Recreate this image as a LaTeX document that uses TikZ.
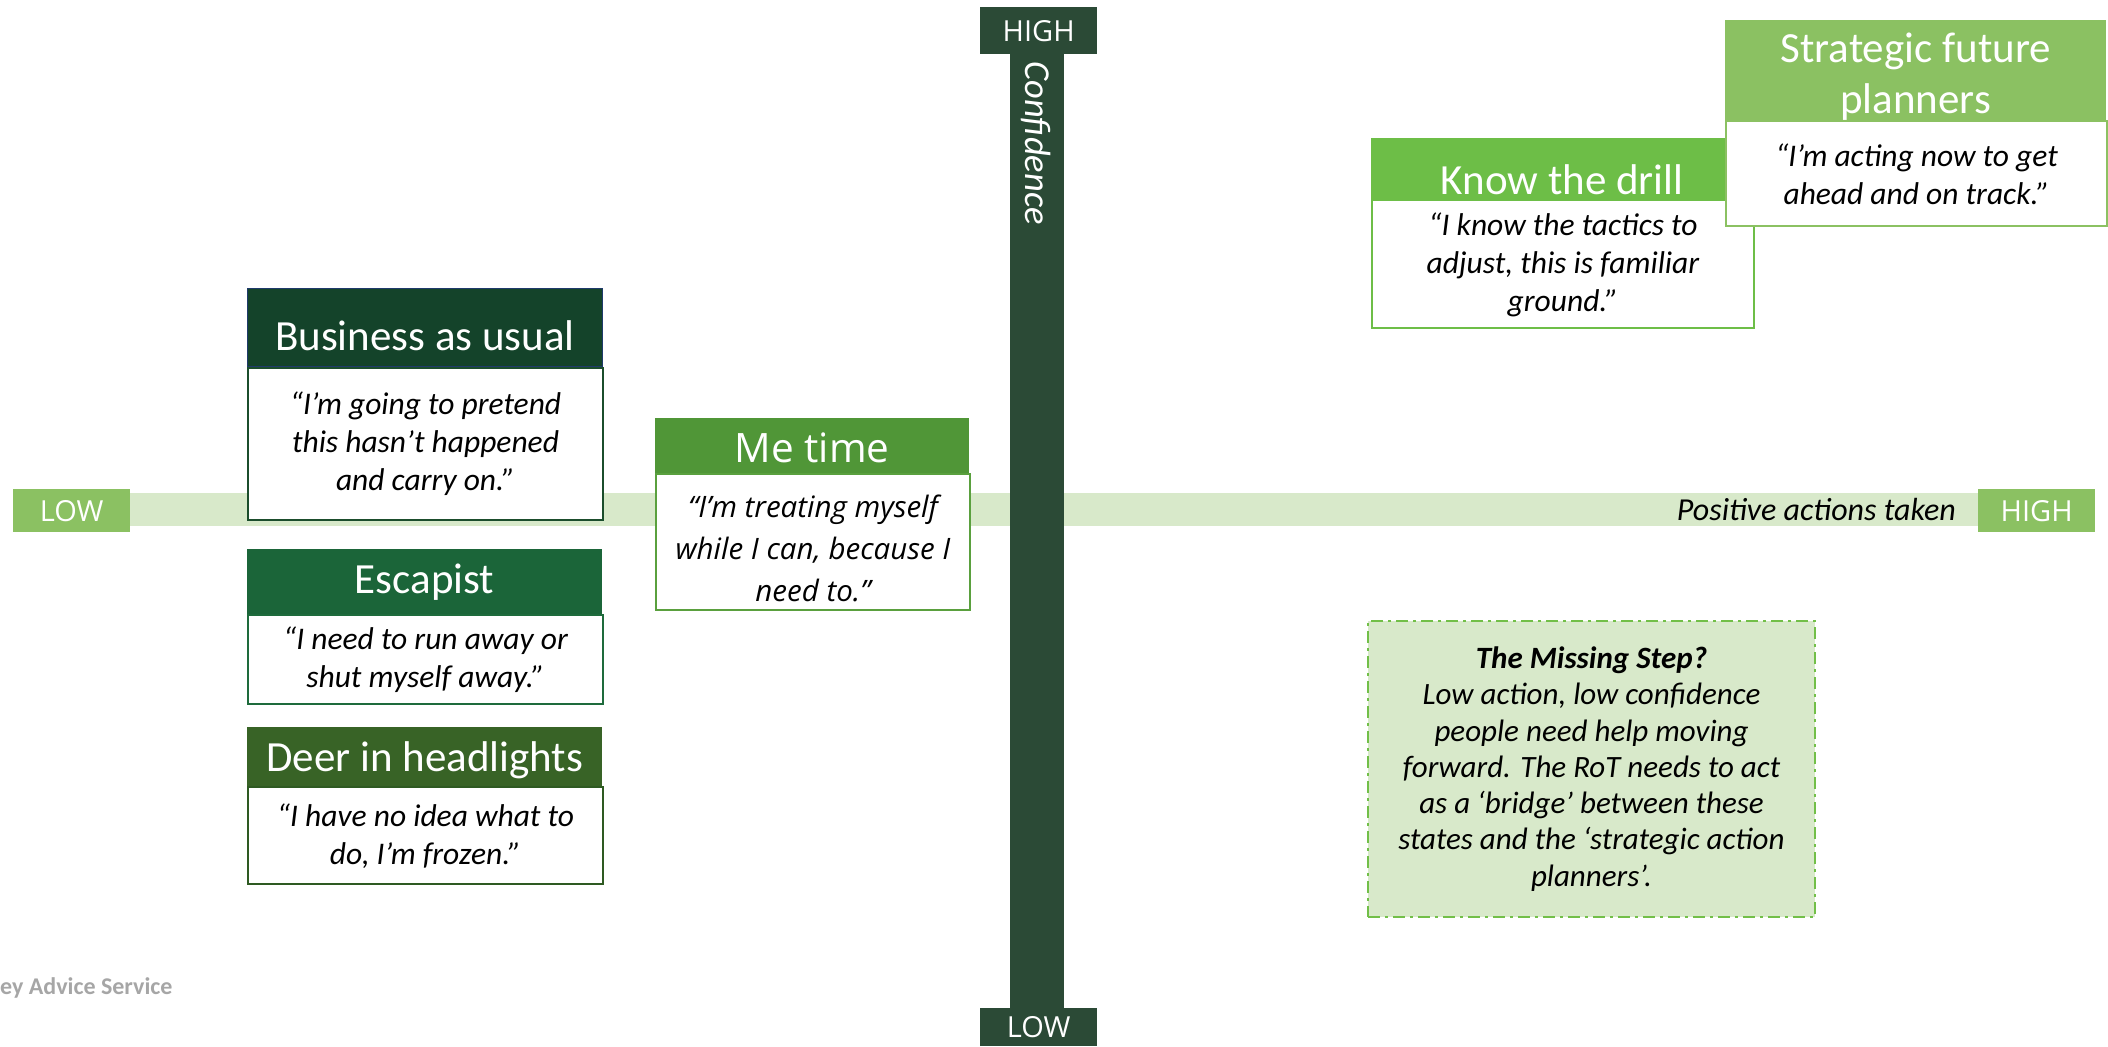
\documentclass[tikz,border=0pt]{standalone}
\usepackage{fontspec}
\setmainfont{Carlito}
\newfontfamily\osans{Open Sans}
\definecolor{barcol}{HTML}{2B4A36}
\definecolor{bandcol}{HTML}{D8E9CA}
\definecolor{sidegreen}{HTML}{8BC162}
\definecolor{bizhdr}{HTML}{14432A}
\definecolor{bizbd}{HTML}{1B4D2C}
\definecolor{navyb}{HTML}{1F3A6B}
\definecolor{eschdr}{HTML}{1B6539}
\definecolor{escbd}{HTML}{1E6B3C}
\definecolor{deerhdr}{HTML}{386326}
\definecolor{deerbd}{HTML}{2E5A22}
\definecolor{mehdr}{HTML}{509637}
\definecolor{mebd}{HTML}{5AA03E}
\definecolor{knowhdr}{HTML}{6DBE47}
\definecolor{strathdr}{HTML}{8BC162}
\definecolor{missbd}{HTML}{72BF48}
\definecolor{footgray}{HTML}{A6A6A6}
\newcommand{\lowerby}[2]{\raisebox{-#1}[\height][\depth]{#2}}
\begin{document}
\begin{tikzpicture}[x=1pt,y=-1pt,
  hdr/.style={fill=#1, text=white, anchor=north west, inner sep=0pt, align=center,
    font=\fontsize{43}{51}\selectfont},
  quote/.style={draw=#1, line width=2pt, fill=white, anchor=north west, inner sep=0pt, align=center,
    font=\fontsize{31.5}{38}\selectfont\itshape},
  axlbl/.style={fill=#1, text=white, inner sep=0pt, anchor=north west,
    font=\osans\fontsize{29}{35}\selectfont, minimum width=117pt, minimum height=43pt}]
\useasboundingbox (0,0) rectangle (2108,1046);

% horizontal axis
\fill[bandcol] (130,493) rectangle (1978,526);
\node[axlbl=sidegreen] (lowx) at (13,489) {LOW};
\node[axlbl=sidegreen] (highx) at (1978,489) {HIGH};
\node[anchor=east, inner sep=0pt, font=\fontsize{32}{38}\selectfont\itshape] (posact) at (1956,510) {Positive actions taken};

% vertical axis
\fill[barcol] (1010,50) rectangle (1064,1010);
\node[axlbl=barcol, minimum height=47pt] (highy) at (980,7) {HIGH};
\node[axlbl=barcol, minimum height=38pt] (lowy) at (980,1008) {LOW};
\node[rotate=-90, text=white, inner sep=0pt, font=\fontsize{36.5}{42}\selectfont\itshape] (conf) at (1036,143) {Confidence};

% Business as usual
\node[hdr=bizhdr, draw=navyb, line width=1pt, minimum width=355pt, minimum height=78pt] (bizh) at (247,288) {\lowerby{8pt}{Business as usual}};
\node[quote=bizbd, minimum width=355pt, minimum height=152pt] (bizq) at (bizh.south west) {“I’m going to pretend\\this hasn’t happened\\and carry on.”};

% Escapist
\node[hdr=eschdr, minimum width=355pt, minimum height=65pt] (esch) at (247,549) {Escapist};
\node[quote=escbd, minimum width=355pt, minimum height=89pt] (escq) at (esch.south west) {“I need to run away or\\shut myself away.”};

% Deer in headlights
\node[hdr=deerhdr, minimum width=355pt, minimum height=59pt] (deerh) at (247,727) {\lowerby{4pt}{Deer in headlights}};
\node[quote=deerbd, minimum width=355pt, minimum height=97pt] (deerq) at (deerh.south west) {“I have no idea what to\\do, I’m frozen.”};

% Me time
\node[hdr=mehdr, minimum width=314pt, minimum height=55pt, font=\osans\fontsize{40.5}{48}\selectfont] (meh) at (655,418) {\lowerby{2pt}{Me time}};
\node[quote=mebd, minimum width=314pt, minimum height=136pt, font=\osans\fontsize{29.5}{42}\selectfont\itshape] (meq) at (meh.south west) {\lowerby{6pt}{\parbox{310pt}{\centering “I’m treating myself\\while I can, because I\\need to.”}}};

% Know the drill
\node[hdr=knowhdr, minimum width=382pt, minimum height=61pt] (knowh) at (1371,138) {\lowerby{11pt}{Know the drill}};
\node[quote=knowhdr, minimum width=382pt, minimum height=128pt] (knowq) at (knowh.south west) {“I know the tactics to\\adjust, this is familiar\\ground.”};

% Strategic future planners
\node[hdr=strathdr, minimum width=381pt, minimum height=100pt] (strath) at (1725,20) {\lowerby{6pt}{\parbox{375pt}{\centering Strategic future\\planners}}};
\node[quote=strathdr, minimum width=381pt, minimum height=105pt] (stratq) at (strath.south west) {“I’m acting now to get\\ahead and on track.”};

% Missing step
\node[draw=missbd, line width=2pt, dash pattern=on 12pt off 5pt on 3pt off 5pt, fill=bandcol,
  anchor=north west, inner sep=0pt, minimum width=447pt, minimum height=296pt, align=center,
  font=\fontsize{31}{36.3}\selectfont\itshape] (miss) at (1367,620)
  {\textbf{The Missing Step?}\\Low action, low confidence\\people need help moving\\forward. The RoT needs to act\\as a ‘bridge’ between these\\states and the ‘strategic action\\planners’.};

% footer
\node[anchor=west, inner sep=0pt, text=footgray, font=\fontsize{24}{28}\selectfont\bfseries] (foot) at (0,988) {ey Advice Service};
\end{tikzpicture}
\end{document}
